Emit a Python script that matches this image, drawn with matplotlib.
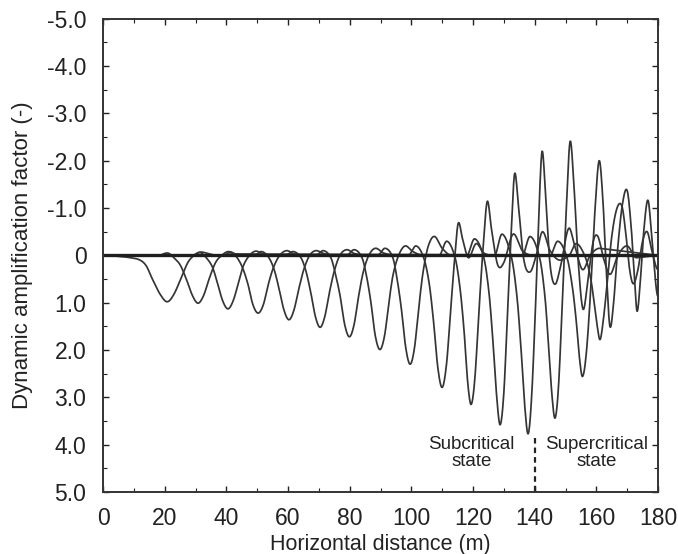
import matplotlib
matplotlib.use("Agg")
import numpy as np
import matplotlib.pyplot as plt
from matplotlib.ticker import MultipleLocator, FixedLocator, FixedFormatter

plt.rcParams['font.family'] = ['Liberation Sans', 'DejaVu Sans']

# ---- data: curves of dynamic amplification factor vs horizontal distance ----
c1_x = [0, 5, 9, 12, 14, 16, 18.5, 20.8, 23, 25.5, 27.5, 29.5, 31.5, 34, 37, 42, 180]
c1_y = [0, 0.02, 0.05, 0.1, 0.22, 0.5, 0.82, 0.98, 0.82, 0.45, 0.15, 0.0, -0.07, -0.04, 0.0, -0.03, 0]

c2_x = [0, 18, 21, 23, 25, 27, 29, 30.8, 32.6, 34.5, 36.5, 38.5, 40.5, 43, 46, 180]
c2_y = [0, 0, -0.05, 0.05, 0.2, 0.5, 0.85, 1.01, 0.85, 0.48, 0.15, 0.0, -0.08, -0.03, 0, 0]

c3_x = [0, 29, 31.5, 33.5, 35.5, 37, 38.8, 40.5, 42.2, 44, 45.5, 47.5, 49.5, 52, 56, 180]
c3_y = [0, 0, -0.06, 0.05, 0.25, 0.56, 0.96, 1.13, 0.96, 0.56, 0.22, 0.0, -0.09, -0.03, 0, 0]

c4_x = [0, 39, 41.5, 43.5, 45.3, 47, 48.6, 50.3, 52, 53.6, 55.3, 57.3, 59.5, 62, 66, 180]
c4_y = [0, 0, -0.07, 0.05, 0.27, 0.61, 1.04, 1.22, 1.04, 0.61, 0.25, 0.0, -0.1, -0.03, 0, 0]

c5_x = [0, 49, 51.5, 53.8, 55.5, 57, 58.7, 60.3, 61.9, 63.6, 65.1, 67, 69, 71.5, 75, 180]
c5_y = [0, 0, -0.08, 0.05, 0.3, 0.68, 1.16, 1.36, 1.16, 0.68, 0.3, 0.0, -0.1, -0.04, 0, 0]

c6_x = [0, 59, 61.8, 64.2, 65.8, 67.3, 68.9, 70.4, 71.9, 73.5, 75, 76.8, 79, 81.5, 85, 180]
c6_y = [0, 0, -0.08, 0.05, 0.33, 0.76, 1.3, 1.52, 1.3, 0.76, 0.33, 0.0, -0.12, -0.04, 0, 0]

c7_x = [0, 69, 71.5, 73.9, 75.4, 76.9, 78.4, 79.9, 81.4, 82.9, 84.4, 86.2, 88.3, 91, 95, 180]
c7_y = [0, 0, -0.1, 0.05, 0.4, 0.86, 1.47, 1.72, 1.47, 0.86, 0.35, 0.0, -0.15, -0.05, 0, 0]

c8_x = [0, 79, 81.5, 84, 85.5, 86.9, 88.3, 89.8, 91.3, 92.7, 94.1, 96, 98, 100.5, 104, 180]
c8_y = [0, 0, -0.12, 0.05, 0.45, 1.0, 1.7, 1.99, 1.7, 1.0, 0.4, -0.02, -0.2, -0.08, 0, 0]

c9_x = [0, 89, 91.5, 94, 95.5, 96.8, 98.2, 99.6, 101, 102.4, 103.8, 105.5, 107.5, 110, 113, 180]
c9_y = [0, 0, -0.15, 0.05, 0.55, 1.15, 1.96, 2.3, 1.96, 1.1, 0.35, -0.2, -0.4, -0.15, 0, 0]

c10_x = [0, 99, 101.5, 104, 105.8, 107.2, 108.6, 110, 111.4, 112.7, 114, 115.2, 116.6, 118.5, 121, 123.5, 127, 180]
c10_y = [0, 0, -0.2, 0.05, 0.6, 1.4, 2.38, 2.79, 2.3, 1.2, 0.1, -0.68, -0.35, 0.05, -0.25, -0.05, 0, 0]

c11_x = [0, 109, 111.5, 114.2, 115.8, 117.1, 118.3, 119.4, 120.6, 121.9, 123.2, 124.6, 126, 128, 130, 133, 136, 140, 180]
c11_y = [0, 0, -0.3, 0.05, 0.7, 1.6, 2.7, 3.15, 2.6, 1.2, -0.1, -1.14, -0.55, 0.2, 0.15, -0.45, -0.1, 0, 0]

c12_x = [0, 118, 120.5, 123.5, 125.2, 126.5, 127.7, 128.8, 130, 131.2, 132.4, 133.5, 134.8, 136.5, 138.5, 140.5, 142.5, 145, 148, 152, 180]
c12_y = [0, 0, -0.35, 0.05, 0.8, 1.85, 3.0, 3.58, 2.9, 1.2, -0.5, -1.73, -1.0, 0.1, 0.35, 0.0, -0.5, -0.1, 0.1, 0, 0]

c13_x = [0, 127, 129.4, 132.5, 134.3, 135.6, 136.8, 137.9, 139, 140.2, 141.3, 142.4, 143.6, 145, 146.6, 148.5, 151, 153, 155.5, 158, 161, 180]
c13_y = [0, 0, -0.45, 0.05, 0.9, 2.0, 3.2, 3.77, 3.0, 1.2, -0.8, -2.2, -1.2, 0.2, 0.61, 0.2, -0.57, -0.2, 0.3, 0.0, -0.15, 0]

c14_x = [0, 136, 138.5, 141.6, 143.3, 144.5, 145.6, 146.6, 147.7, 148.9, 150.2, 151.5, 152.8, 154.2, 155.7, 157.3, 159, 160.5, 162.5, 164.5, 167, 170, 173, 180]
c14_y = [0, 0, -0.4, 0.05, 0.85, 1.9, 2.95, 3.44, 2.8, 1.1, -0.9, -2.41, -1.4, 0.2, 1.14, 0.5, -0.3, -0.4, 0.1, 0.4, 0.0, -0.2, 0.05, 0]

c15_x = [0, 145, 147.5, 150.5, 152.3, 153.5, 154.5, 155.5, 156.7, 158, 159.5, 160.9, 162.1, 163.3, 164.4, 165.6, 167, 168.5, 170, 171.3, 172.3, 173.2, 174.2, 175.5, 176.8, 178.2, 180]
c15_y = [0, 0, -0.3, 0.05, 0.7, 1.4, 2.15, 2.56, 2.1, 0.9, -0.9, -2.0, -1.2, 0.4, 1.5, 1.0, -0.2, -1.1, -1.37, -0.6, 0.4, 1.18, 0.6, -0.6, -1.16, -0.2, 0.87]

c16_x = [0, 151, 153.5, 156.5, 158.2, 159.3, 160.3, 161.2, 162.2, 163.5, 165, 166.7, 168.3, 169.5, 170.8, 172, 173.5, 175, 176.5, 178, 180]
c16_y = [0, 0, -0.25, 0.05, 0.5, 1.0, 1.5, 1.78, 1.4, 0.6, -0.4, -1.0, -1.04, -0.5, 0.3, 0.6, 0.3, -0.3, -0.5, -0.1, 0.3]

baseline_x = [0, 180]
baseline_y = [0, 0]

curves = [(c1_x, c1_y), (c2_x, c2_y), (c3_x, c3_y), (c4_x, c4_y), (c5_x, c5_y),
          (c6_x, c6_y), (c7_x, c7_y), (c8_x, c8_y), (c9_x, c9_y), (c10_x, c10_y),
          (c11_x, c11_y), (c12_x, c12_y), (c13_x, c13_y), (c14_x, c14_y),
          (c15_x, c15_y), (c16_x, c16_y)]

critical_x = 140
critical_y = [3.85, 5.0]

xticks = [0, 20, 40, 60, 80, 100, 120, 140, 160, 180]
yticks = [-5, -4, -3, -2, -1, 0, 1, 2, 3, 4, 5]
ytick_labels = ['-5.0', '-4.0', '-3.0', '-2.0', '-1.0', '0', '1.0', '2.0', '3.0', '4.0', '5.0']


def smooth_path(xs, ys, n=10):
    """Cubic Hermite rendering (y as a function of x) of the read keypoints."""
    x = np.asarray(xs, float)
    y = np.asarray(ys, float)
    m = np.zeros_like(y)
    for i in range(1, len(x) - 1):
        m[i] = (y[i + 1] - y[i - 1]) / (x[i + 1] - x[i - 1])
        # keep the keypoint slope local when one neighbour is far away
        dl, dr = x[i] - x[i - 1], x[i + 1] - x[i]
        if dl > 6 or dr > 6:
            m[i] = 0.0
    outx, outy = [], []
    t = np.linspace(0, 1, n, endpoint=False)
    for i in range(len(x) - 1):
        h = x[i + 1] - x[i]
        if h > 6:
            outx.append(x[i])
            outy.append(y[i])
            continue
        h00 = 2 * t ** 3 - 3 * t ** 2 + 1
        h10 = t ** 3 - 2 * t ** 2 + t
        h01 = -2 * t ** 3 + 3 * t ** 2
        h11 = t ** 3 - t ** 2
        outx.extend(x[i] + t * h)
        outy.extend(h00 * y[i] + h10 * h * m[i] + h01 * y[i + 1] + h11 * h * m[i + 1])
    outx.append(x[-1])
    outy.append(y[-1])
    return outx, outy


# ---- figure ----
fig = plt.figure(figsize=(6.78, 5.54), dpi=100)
ax = fig.add_axes([0.152, 0.112, 0.8185, 0.854])

line_color = '#353535'
for xs, ys in curves:
    sx, sy = smooth_path(xs, ys)
    ax.plot(sx, sy, color=line_color, lw=1.25, solid_joinstyle='round')
ax.plot(baseline_x, baseline_y, color='#1e1e1e', lw=2.4)

ax.plot([critical_x, critical_x], critical_y, color='#222222', lw=1.6, ls=(0, (2.5, 1.8)))

ax.text(119.5, 4.18, 'Subcritical\nstate', ha='center', va='center', fontsize=13.5,
        linespacing=0.95, color='#222222')
ax.text(160, 4.18, 'Supercritical\nstate', ha='center', va='center', fontsize=13.5,
        linespacing=0.95, color='#222222')

ax.set_xlim(0, 180)
ax.set_ylim(5.0, -5.0)
ax.xaxis.set_major_locator(FixedLocator(xticks))
ax.xaxis.set_minor_locator(MultipleLocator(10))
ax.yaxis.set_major_locator(FixedLocator(yticks))
ax.yaxis.set_major_formatter(FixedFormatter(ytick_labels))
ax.yaxis.set_minor_locator(MultipleLocator(0.5))

ax.tick_params(which='both', direction='in', top=True, right=True, colors='#222222')
ax.tick_params(which='major', length=4, width=1.0, labelsize=16.5)
ax.tick_params(axis='x', which='major', pad=11)
ax.tick_params(axis='y', which='major', pad=12)
ax.tick_params(which='minor', length=3, width=0.8)
for s in ax.spines.values():
    s.set_linewidth(1.4)
    s.set_color('#333333')

ax.set_xlabel('Horizontal distance (m)', fontsize=15.5, labelpad=3, color='#222222')
ax.set_ylabel('Dynamic amplification factor (-)', fontsize=16, labelpad=10, color='#222222')

fig.savefig('out.png', dpi=100)
